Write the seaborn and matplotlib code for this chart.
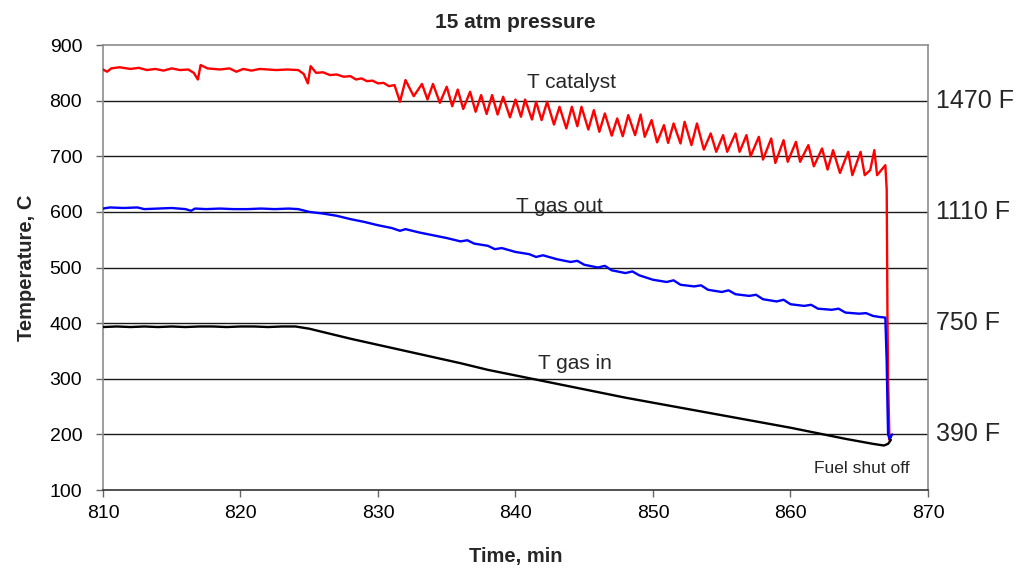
"""
plot.py

temperatures during fuel shut off at 15 atm
"""

import matplotlib
matplotlib.use("Agg")
import matplotlib.pyplot as plt
import pandas as pd
import seaborn as sns

# T catalyst (red)
cat_time = [810.0, 810.3, 810.6, 811.2, 812.0, 812.6, 813.2, 813.8, 814.4, 815.0,
            815.6, 816.2, 816.6, 816.9, 817.1, 817.6, 818.5, 819.2, 819.7, 820.2,
            820.8, 821.4, 822.0, 822.6, 823.4, 824.2, 824.6, 824.9, 825.1, 825.5,
            826.0, 826.5, 827.0, 827.5, 828.0, 828.4, 828.8, 829.2, 829.6, 830.0,
            830.4, 830.8, 831.2, 831.6, 832.0,
            832.6, 833.2, 833.6, 834.0, 834.5, 835.0, 835.4, 835.8, 836.2, 836.7,
            837.1, 837.5, 837.9, 838.3, 838.7, 839.1, 839.6, 840.0, 840.4, 840.7,
            841.2, 841.5, 841.9, 842.3, 842.8, 843.2, 843.7, 844.1, 844.5, 844.8,
            845.3, 845.7, 846.1, 846.5, 847.0, 847.4, 847.8, 848.2, 848.7, 849.1,
            849.4, 849.9, 850.3, 850.8, 851.1, 851.5, 852.0, 852.3, 852.8, 853.2,
            853.7, 854.2, 854.6, 855.1, 855.4, 856.0, 856.3, 856.8, 857.1, 857.7,
            858.0, 858.6, 858.9, 859.5, 859.8, 860.4, 860.7, 861.3, 861.7, 862.3,
            862.7, 863.1, 863.6, 864.2, 864.5, 865.1, 865.4, 865.8, 866.1, 866.3,
            866.9, 867.0, 867.05, 867.1, 867.2, 867.3]
cat_temp = [856, 852, 858, 860, 857, 859, 855, 857, 854, 858,
            855, 856, 850, 838, 864, 858, 856, 858, 852, 857,
            854, 857, 856, 855, 856, 855, 848, 831, 862, 850,
            851, 846, 847, 843, 844, 838, 840, 835, 836, 831,
            832, 826, 828, 798, 837,
            808, 830, 802, 830, 796, 825, 790, 820, 785, 816,
            780, 810, 776, 810, 775, 807, 770, 802, 771, 802,
            766, 798, 765, 798, 757, 789, 750, 789, 754, 789,
            748, 783, 744, 777, 737, 768, 736, 774, 738, 775,
            735, 765, 725, 756, 724, 759, 723, 762, 720, 759,
            712, 741, 708, 738, 708, 741, 708, 738, 700, 735,
            694, 732, 688, 729, 690, 726, 690, 720, 682, 714,
            676, 711, 670, 708, 666, 708, 666, 675, 711, 666,
            684, 640, 430, 300, 190, 195]

# T gas out (blue)
out_time = [810.0, 810.5, 811.5, 812.5, 813.0, 814.0, 815.0, 816.0, 816.4, 816.7,
            817.5, 818.5, 819.5, 820.5, 821.5, 822.5, 823.5, 824.2, 825.0, 826.0,
            827.0, 828.0, 829.0, 830.0, 831.0, 831.6, 832.0, 833.0, 834.0, 835.0,
            836.0, 836.5, 837.0, 838.0, 838.5, 839.0, 840.0, 841.0, 841.5, 842.0,
            843.0, 844.0, 844.5, 845.0, 846.0, 846.5, 847.0, 848.0, 848.5, 849.0,
            850.0, 851.0, 851.5, 852.0, 853.0, 853.5, 854.0, 855.0, 855.5, 856.0,
            857.0, 857.5, 858.0, 859.0, 859.5, 860.0, 861.0, 861.5, 862.0, 863.0,
            863.5, 864.0, 865.0, 865.5, 866.0, 866.5, 866.9, 867.0, 867.05, 867.1,
            867.2, 867.4]
out_temp = [606, 608, 607, 608, 605, 606, 607, 605, 602, 606,
            605, 606, 605, 605, 606, 605, 606, 605, 600, 597,
            593, 587, 582, 576, 571, 566, 569, 563, 558, 553,
            547, 549, 543, 539, 533, 535, 528, 524, 519, 522,
            515, 510, 512, 505, 500, 503, 495, 490, 493, 486,
            478, 474, 477, 469, 466, 468, 460, 456, 459, 452,
            449, 451, 443, 439, 442, 434, 431, 433, 426, 424,
            426, 419, 417, 418, 413, 411, 410, 330, 260, 200,
            192, 200]

# T gas in (black)
in_time = [810.0, 811.0, 812.0, 813.0, 814.0, 815.0, 816.0, 817.0, 818.0, 819.0,
           820.0, 821.0, 822.0, 823.0, 824.0, 825.0, 826.0, 828.0, 830.0, 832.0,
           834.0, 836.0, 838.0, 840.0, 842.0, 844.0, 846.0, 848.0, 850.0, 852.0,
           854.0, 856.0, 858.0, 860.0, 862.0, 864.0, 866.0, 866.8, 867.1, 867.3]
in_temp = [393, 394, 393, 394, 393, 394, 393, 394, 394, 393,
           394, 394, 393, 394, 394, 390, 384, 372, 361, 350,
           339, 328, 316, 306, 296, 286, 276, 266, 257, 248,
           239, 230, 221, 212, 202, 192, 183, 180, 183, 190]

series_names = ["T catalyst", "T gas out", "T gas in"]
series_colors = ["#ff0000", "#0000ff", "#000000"]

# Fahrenheit marks on the right
f_levels = [800, 600, 400, 200]
f_labels = ["1470 F", "1110 F", "750 F", "390 F"]

df = pd.concat([
    pd.DataFrame({"time": cat_time, "temp": cat_temp, "series": series_names[0]}),
    pd.DataFrame({"time": out_time, "temp": out_temp, "series": series_names[1]}),
    pd.DataFrame({"time": in_time, "temp": in_temp, "series": series_names[2]}),
])

sns.set_style("ticks")
plt.rcParams["font.family"] = ["Liberation Sans", "DejaVu Sans"]

fig = plt.figure(figsize=(10.29, 5.75), dpi=100)
ax = fig.add_axes([0.1001, 0.1478, 0.8017, 0.7739])

# grid lines first so curves sit on top
for level in range(200, 900, 100):
    ax.axhline(level, color="#1a1a1a", lw=1.0, zorder=1)

sns.lineplot(data=df, x="time", y="temp", hue="series", palette=series_colors,
             hue_order=series_names, estimator=None, sort=False, lw=1.7,
             legend=False, ax=ax, zorder=3)

ax.set_xlim(810, 870)
ax.set_ylim(100, 900)
ax.set_xticks(range(810, 871, 10))
ax.set_yticks(range(100, 901, 100))

for side in ["left", "right", "top"]:
    ax.spines[side].set_color("#8c8c8c")
    ax.spines[side].set_linewidth(1.2)
ax.spines["bottom"].set_color("#333333")
ax.spines["bottom"].set_linewidth(1.2)

ax.tick_params(axis="both", direction="out", length=5, width=1,
               color="#666666", labelsize=14, labelcolor="black")
ax.tick_params(axis="x", pad=6)
ax.tick_params(axis="y", pad=10)

ax.set_xlabel("Time, min", fontsize=14.5, fontweight="bold", labelpad=18)
ax.set_ylabel("Temperature, C", fontsize=14.5, fontweight="bold", labelpad=10)
ax.set_title("15 atm pressure", fontsize=15, fontweight="bold", pad=12)

# curve labels
ax.text(844.1, 833, "T catalyst", fontsize=15, ha="center", va="center", zorder=4)
ax.text(843.2, 609, "T gas out", fontsize=15, ha="center", va="center", zorder=4)
ax.text(844.3, 328, "T gas in", fontsize=15, ha="center", va="center", zorder=4)
ax.text(865.2, 139, "Fuel shut off", fontsize=12.5, ha="center", va="center", zorder=4)

for level, label in zip(f_levels, f_labels):
    ax.text(870.6, level, label, fontsize=18, ha="left", va="center",
            clip_on=False)

fig.savefig("out.png", dpi=100)
